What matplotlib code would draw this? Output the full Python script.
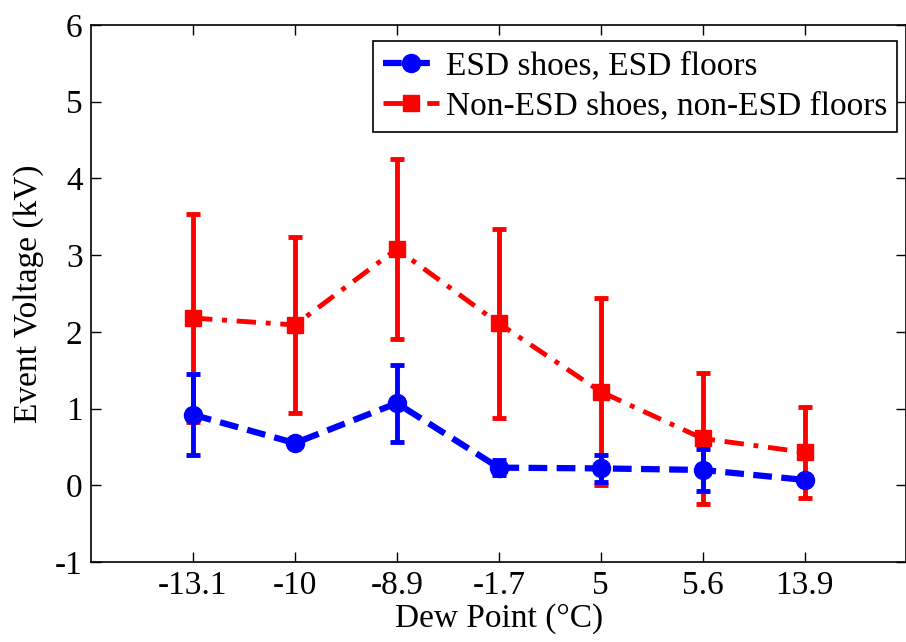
import numpy as np
import matplotlib.pyplot as plt
from matplotlib.lines import Line2D

# 데이터
dew_labels = ['-13.1', '-10', '-8.9', '-1.7', '5', '5.6', '13.9']
esd_mean = [0.92, 0.55, 1.07, 0.23, 0.22, 0.20, 0.07]
esd_err = [0.53, 0.05, 0.50, 0.10, 0.18, 0.27, 0.05]
non_mean = [2.18, 2.09, 3.08, 2.11, 1.22, 0.61, 0.43]
non_err = [1.35, 1.15, 1.17, 1.23, 1.22, 0.86, 0.59]

plt.rcParams['font.family'] = ['Liberation Serif', 'DejaVu Serif']
plt.rcParams['axes.unicode_minus'] = False
x = np.arange(1, len(dew_labels) + 1)

fig = plt.figure(figsize=(9.06, 6.42), dpi=100)
ax = fig.add_axes([0.1005, 0.1246, 0.9, 0.8365])

ax.errorbar(x, non_mean, yerr=non_err, color='#ff0000', ls='-.', lw=3.5,
            marker='s', ms=12, elinewidth=3.5, capsize=5, capthick=3.5,
            dashes=(4, 2, 1, 2), zorder=3)
ax.errorbar(x, esd_mean, yerr=esd_err, color='#0000ff', ls='--', lw=4.5,
            marker='o', ms=13, elinewidth=3.5, capsize=5, capthick=3.5,
            dashes=(3, 1.5), zorder=4)

ax.set_xlim(0, 8)
ax.set_ylim(-1, 6)
ax.set_xticks(x)
ax.set_xticklabels(dew_labels)
ax.set_yticks(range(-1, 7))
ax.tick_params(direction='in', length=7, width=1, top=True, right=True,
               labelsize=24, pad=6)
ax.set_xlabel('Dew Point (\u00b0C)', fontsize=24, labelpad=2)
ax.set_ylabel('Event Voltage (kV)', fontsize=24, labelpad=8)
for s in ax.spines.values():
    s.set_linewidth(1.2)

h1 = Line2D([], [], color='#0000ff', ls='--', lw=4.5, marker='o', ms=13, dashes=(3, 1.5))
h2 = Line2D([], [], color='#ff0000', ls='-.', lw=3.5, marker='s', ms=12, dashes=(4, 2, 1, 2))
leg = ax.legend([h1, h2], ['ESD shoes, ESD floors', 'Non-ESD shoes, non-ESD floors'],
                loc='upper right', bbox_to_anchor=(0.997, 0.983), fontsize=24,
                frameon=True, fancybox=False, edgecolor='black', framealpha=1,
                handlelength=1.7, handletextpad=0.2, borderaxespad=0.2,
                borderpad=0.3, labelspacing=0.3)
leg.get_frame().set_linewidth(1.2)

fig.savefig('out.png', dpi=100)
